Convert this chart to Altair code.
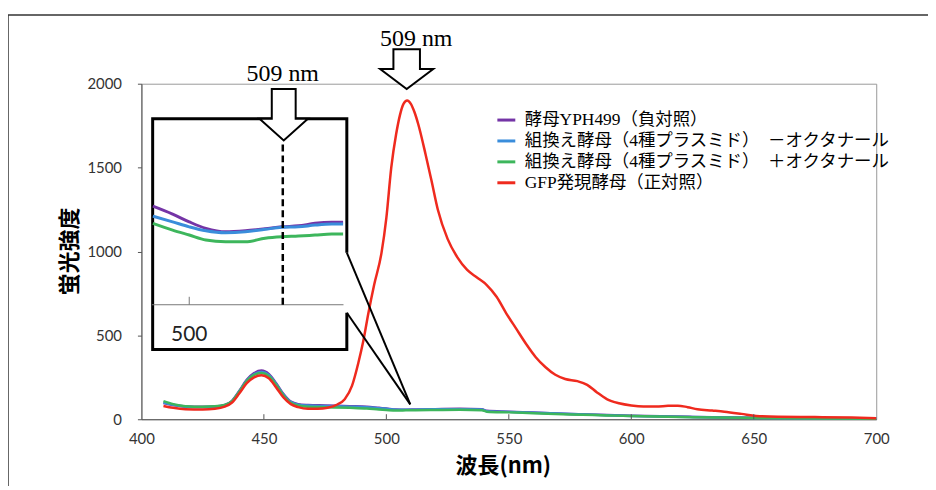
import altair as alt
import pandas as pd

SERIES = [
    "酵母YPH499（負対照）",
    "組換え酵母（4種プラスミド）　－オクタナール",
    "組換え酵母（4種プラスミド）　＋オクタナール",
    "GFP発現酵母（正対照）",
]
COLORS = ["#7434A6", "#3A8DDB", "#3DB65C", "#EF2A1E"]

# ---- main spectra (wavelength nm, fluorescence intensity) ----
low_wl = [409, 413, 418, 425, 430, 434, 437, 440, 443, 446, 449, 452, 455, 458, 461, 464,
          468, 475, 485, 492, 497, 500, 504, 508, 512, 520, 530, 539, 541, 550, 560, 575,
          590, 600, 625, 650, 675, 700]
purple_v = [97, 85, 76, 74, 76, 85, 110, 170, 235, 275, 290, 270, 215, 150, 105, 90,
            85, 82, 78, 75, 68, 64, 58, 57, 58, 60, 62, 60, 50, 45, 40, 32,
            25, 21, 14, 9, 6, 4]
blue_v = [100, 86, 75, 72, 74, 83, 107, 166, 230, 268, 282, 264, 210, 146, 102, 87,
          82, 79, 75, 72, 66, 62, 57, 56, 57, 59, 60, 58, 48, 44, 39, 31,
          24, 20, 13, 8, 5, 4]
green_v = [108, 90, 78, 75, 77, 85, 108, 165, 228, 265, 275, 258, 205, 142, 98, 82,
           75, 72, 68, 64, 58, 55, 52, 53, 54, 55, 56, 54, 45, 41, 36, 29,
           23, 19, 12, 8, 5, 3]
red_wl = [409, 413, 418, 425, 430, 434, 437, 440, 443, 446, 449, 452, 455, 458, 461, 464,
          468, 472, 476, 480, 483, 486, 488.6, 490.5, 492.7, 495, 498, 500, 502, 504,
          505.5, 507, 508.5, 510, 511.5, 513, 516, 518.4, 521, 525, 529, 533, 537, 541,
          545, 549, 553, 557, 561, 565, 569, 573, 578, 582, 586, 590, 595, 600, 605,
          610, 615, 619, 623, 627, 633, 638, 645, 651, 660, 675, 690, 700]
red_v = [79, 68, 60, 58, 62, 75, 100, 155, 215, 250, 262, 245, 190, 130, 90, 72,
         62, 62, 68, 88, 119, 200, 338, 460, 635, 800, 990, 1200, 1500, 1700,
         1810, 1880, 1900, 1880, 1830, 1760, 1580, 1424, 1250, 1075, 965, 890, 845, 800,
         730, 630, 540, 450, 370, 310, 265, 240, 227, 205, 160, 120, 95, 82, 76,
         76, 80, 81, 72, 60, 52, 45, 32, 20, 15, 13, 10, 6]

# ---- inset (magnified view around 509 nm) ----
inset_wl = [496.5, 498.4, 500.0, 501.6, 503.5, 505.4, 507.3, 508.9, 510.5, 512.1, 513.7, 514.8]
inset_purple = [65.4, 62.2, 59.1, 56.5, 55.1, 55.5, 56.3, 57.1, 57.5, 58.5, 58.9, 58.9]
inset_blue = [61.4, 59.1, 57.1, 55.5, 54.7, 55.1, 56.1, 56.9, 57.1, 57.8, 58.2, 58.2]
inset_green = [58.5, 55.8, 53.8, 51.8, 51.1, 51.1, 52.5, 53.1, 53.4, 53.8, 54.2, 54.2]

x_tick_values = [400, 450, 500, 550, 600, 650, 700]
y_tick_values = [0, 500, 1000, 1500, 2000]

MAIN_X = [400, 700]
MAIN_Y = [0, 2000]
INSET_X = [495.4, 566.09]
INSET_Y = [-20.2, 114.6]

rows = []
for s, vals in zip(SERIES[:3], [purple_v, blue_v, green_v]):
    rows += [{"series": s, "wl": w, "v": v} for w, v in zip(low_wl, vals)]
rows += [{"series": SERIES[3], "wl": w, "v": v} for w, v in zip(red_wl, red_v)]
df_main = pd.DataFrame(rows)

irows = []
for s, vals in zip(SERIES[:3], [inset_purple, inset_blue, inset_green]):
    irows += [{"series": s, "wl": w, "v": v} for w, v in zip(inset_wl, vals)]
df_inset = pd.DataFrame(irows)

JP = "Noto Sans CJK JP"
MIX = "Liberation Serif, Noto Sans CJK JP"


def mx(**kw):
    return alt.X("wl:Q", scale=alt.Scale(domain=MAIN_X, nice=False, zero=False), **kw)


def my(**kw):
    return alt.Y("v:Q", scale=alt.Scale(domain=MAIN_Y, nice=False, zero=False), **kw)


def ix():
    return alt.X("wl:Q", scale=alt.Scale(domain=INSET_X, nice=False, zero=False), axis=None)


def iy():
    return alt.Y("v:Q", scale=alt.Scale(domain=INSET_Y, nice=False, zero=False), axis=None)


color = alt.Color(
    "series:N",
    scale=alt.Scale(domain=SERIES, range=COLORS),
    legend=alt.Legend(
        title=None, orient="none", legendX=356, legendY=26,
        symbolType="stroke", symbolStrokeWidth=3, symbolSize=324,
        labelFont=MIX, labelFontSize=17.5, labelColor="black", labelLimit=600,
        rowPadding=2, labelOffset=8,
    ),
)

lines = alt.Chart(df_main).mark_line(strokeWidth=2.5, interpolate="monotone").encode(
    x=mx(axis=alt.Axis(values=x_tick_values, title="波長(nm)", ticks=False, labelPadding=12,
                       labelFlush=False, format="d",
                       labelFont="Lato", labelFontSize=15, labelColor="#333", domainColor="#555",
                       titleFont=JP, titleFontSize=22, titleFontWeight="bold", titleColor="black",
                       titleX=363, titleY=46, titleBaseline="middle")),
    y=my(axis=alt.Axis(values=y_tick_values, title="蛍光強度", tickSize=4, tickColor="#555",
                       labelFlush=False, format="d",
                       labelPadding=16, labelFont="Lato", labelFontSize=15, labelColor="#333",
                       domainColor="#555", titleFont=JP, titleFontSize=22, titleFontWeight="bold",
                       titleColor="black", titleX=-72, titleY=168, titleAngle=270,
                       titleAlign="center", titleBaseline="middle")),
    color=color,
)

# inward x ticks
df_xt = pd.DataFrame({"wl": [450, 500, 550, 600, 650], "v": [0] * 5, "v2": [30] * 5})
xticks = alt.Chart(df_xt).mark_rule(color="#555", strokeWidth=1).encode(
    x=mx(), y=my(), y2="v2:Q")

# inset frame (open on the right where the zoom lines leave)
df_box = pd.DataFrame({
    "i": [0, 1, 2, 3, 4, 5],
    "wl": [483.86, 483.86, 404.59, 404.59, 483.86, 483.86],
    "v": [992.9, 1790.5, 1790.5, 415.4, 415.4, 635.0],
})
box = alt.Chart(df_box).mark_line(color="black", strokeWidth=3, strokeJoin="miter").encode(
    x=mx(), y=my(), order="i:Q")

df_conn = pd.DataFrame({
    "g": ["a", "a", "b", "b"], "i": [0, 1, 0, 1],
    "wl": [483.86, 509.76, 483.86, 509.76],
    "v": [992.9, 89.0, 635.0, 89.0],
})
conn = alt.Chart(df_conn).mark_line(color="black", strokeWidth=2).encode(
    x=mx(), y=my(), detail="g:N", order="i:Q")

ARROW_MAIN = "M -0.5 -0.75 L 0.5 -0.75 L 0.5 0 L 1 0 L 0 0.75 L -1 0 L -0.5 0 Z"
ARROW_INSET = "M -0.464 -1 L 0.464 -1 L 0.464 0.16 L 0.94 0.16 L 0 1 L -0.94 0.16 L -0.464 0.16 Z"

arrow1 = alt.Chart(pd.DataFrame({"wl": [508.3], "v": [2087.0]})).mark_point(
    shape=ARROW_MAIN, size=2841, filled=True, fill="white", stroke="black",
    strokeWidth=2, opacity=1).encode(x=mx(), y=my())
arrow2 = alt.Chart(pd.DataFrame({"wl": [458.1], "v": [1815.0]})).mark_point(
    shape=ARROW_INSET, size=2673, filled=True, fill="white", stroke="black",
    strokeWidth=2, opacity=1).encode(x=mx(), y=my())

df_lab = pd.DataFrame({"wl": [512.2, 457.7], "v": [2225.5, 2017.8], "txt": ["509 nm", "509 nm"]})
labels = alt.Chart(df_lab).mark_text(font="Liberation Serif", fontSize=24, color="black",
                                     baseline="alphabetic", align="center").encode(
    x=mx(), y=my(), text="txt:N")

frame_df = pd.DataFrame({"a": [0]})
frame_v = alt.Chart(frame_df).mark_rule(color="#333", strokeWidth=1.5).encode(
    x=alt.value(-134), y=alt.value(-69), y2=alt.value(410))
frame_h = alt.Chart(frame_df).mark_rule(color="#333", strokeWidth=1.5).encode(
    x=alt.value(-134), x2=alt.value(790), y=alt.value(-69))

main = alt.layer(lines, xticks, conn, box, arrow1, arrow2, labels, frame_v, frame_h)

# inset layers (own scales)
inset_lines = alt.Chart(df_inset).mark_line(strokeWidth=3, interpolate="monotone").encode(
    x=ix(), y=iy(), color=alt.Color("series:N", scale=alt.Scale(domain=SERIES, range=COLORS)))
inset_axis = alt.Chart(pd.DataFrame({"wl": [496.41], "wl2": [514.84], "v": [25.8]})).mark_rule(
    color="#777", strokeWidth=1).encode(x=ix(), x2="wl2:Q", y=iy())
inset_tick = alt.Chart(pd.DataFrame({"wl": [500], "v": [25.8], "v2": [29.0]})).mark_rule(
    color="#777", strokeWidth=1).encode(x=ix(), y=iy(), y2="v2:Q")
inset_text = alt.Chart(pd.DataFrame({"wl": [500], "v": [13.8], "txt": ["500"]})).mark_text(
    font="Lato", fontSize=21, color="#222", baseline="middle", align="center").encode(
    x=ix(), y=iy(), text="txt:N")
inset_dash = alt.Chart(pd.DataFrame({"wl": [509], "v": [25.8], "v2": [91.8]})).mark_rule(
    color="black", strokeWidth=2.5, strokeDash=[7, 4]).encode(x=ix(), y=iy(), y2="v2:Q")

inset = alt.layer(inset_lines, inset_axis, inset_tick, inset_text, inset_dash)

chart = alt.layer(main, inset).resolve_scale(x="independent", y="independent").properties(
    width=738, height=337,
    padding={"left": 134, "top": 75, "right": 52, "bottom": 66},
    autosize=alt.AutoSizeParams(type="none"),
).configure_view(stroke="#999", strokeWidth=1).configure_axis(grid=False)

chart.save("out.html", embed_options={"renderer": "svg", "actions": False})
